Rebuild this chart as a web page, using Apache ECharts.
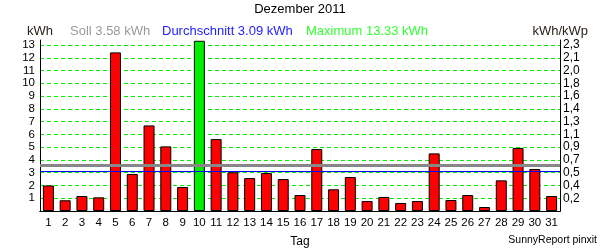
<!DOCTYPE html>
<html>
<head>
<meta charset="utf-8">
<script src="https://cdn.jsdelivr.net/npm/echarts@6/dist/echarts.min.js"></script>
<style>
html,body{margin:0;padding:0;background:#fff;}
#chart{width:600px;height:250px;}
</style>
</head>
<body>
<div id="chart"></div>
<script>
// ---- data ----
var days = ['1','2','3','4','5','6','7','8','9','10','11','12','13','14','15','16','17','18','19','20','21','22','23','24','25','26','27','28','29','30','31'];
var kwh = [2.0,0.84,1.17,1.07,12.42,2.9,6.7,5.06,1.88,13.33,5.63,3.03,2.58,2.97,2.5,1.25,4.85,1.7,2.66,0.78,1.1,0.63,0.78,4.51,0.86,1.25,0.31,2.4,4.93,3.29,1.17];
var leftTicks = ['','1','2','3','4','5','6','7','8','9','10','11','12','13'];
var rightTicks = ['','0,2','0,4','0,5','0,7','0,9','1,1','1,3','1,4','1,6','1,8','2,0','2,1','2,3'];
var soll = 3.58;
var avg = 3.09;
var maxVal = 13.33;
var titleText = 'Dezember 2011';
var xName = 'Tag';
var footer = 'SunnyReport pinxit';

var font = 'Liberation Sans, Arial, sans-serif';
var barData = kwh.map(function (v) {
  return {
    value: v,
    itemStyle: { color: v === maxVal ? '#00ee00' : '#ff0000' }
  };
});

function tickFmt(arr) {
  return function (v) {
    if (Math.abs(v - Math.round(v)) > 1e-6) return '';
    var i = Math.round(v);
    return arr[i] !== undefined ? arr[i] : '';
  };
}
function ttl(text, pos, size, color) {
  var o = { text: text, padding: 0, textStyle: { fontSize: size, fontWeight: 'normal', color: color, fontFamily: font } };
  for (var k in pos) o[k] = pos[k];
  return o;
}

var chart = echarts.init(document.getElementById('chart'), null, { renderer: 'canvas' });
chart.setOption({
  animation: false,
  backgroundColor: '#fff',
  textStyle: { fontFamily: font },
  title: [
    ttl(titleText, { left: 'center', top: 3 }, 13, '#000'),
    ttl('kWh', { left: 27, top: 25 }, 13, '#2a2218'),
    ttl('Soll ' + soll.toFixed(2) + ' kWh', { left: 70, top: 25 }, 13, '#9a9a9a'),
    ttl('Durchschnitt ' + avg.toFixed(2) + ' kWh', { left: 162, top: 25 }, 13, '#2222ff'),
    ttl('Maximum ' + maxVal.toFixed(2) + ' kWh', { left: 306, top: 25 }, 13, '#33ff33'),
    ttl('kWh/kWp', { right: 12, top: 25 }, 13, '#2a2218'),
    ttl(xName, { left: 'center', top: 236 }, 12, '#000'),
    ttl(footer, { right: 3, top: 235 }, 10.5, '#000')
  ],
  grid: { left: 40, right: 40, top: 40, bottom: 39, show: false },
  xAxis: [
    {
      type: 'category',
      data: days,
      axisLine: { show: true, lineStyle: { color: '#000', width: 1 } },
      axisTick: { show: false },
      axisLabel: { fontSize: 11.5, color: '#000', margin: 6, interval: 0, fontFamily: font }
    },
    {
      type: 'category',
      data: days,
      position: 'top',
      axisLine: { show: true, lineStyle: { color: '#000', width: 1 } },
      axisTick: { show: false },
      axisLabel: { show: false }
    }
  ],
  yAxis: [
    {
      type: 'value', min: 0, max: 13.39, interval: 1, position: 'left',
      axisLine: { show: true, lineStyle: { color: '#000' } },
      axisTick: { show: false },
      axisLabel: { fontSize: 11.5, color: '#000', margin: 5, showMaxLabel: false, formatter: tickFmt(leftTicks), fontFamily: font },
      splitLine: { show: true, showMinLine: false, showMaxLine: false, lineStyle: { color: '#00ee00', type: [4, 3], width: 1 } }
    },
    {
      type: 'value', min: 0, max: 13.39, interval: 1, position: 'right',
      axisLine: { show: true, lineStyle: { color: '#000' } },
      axisTick: { show: false },
      axisLabel: { fontSize: 12, color: '#000', margin: 3, showMaxLabel: false, formatter: tickFmt(rightTicks), fontFamily: font },
      splitLine: { show: false }
    }
  ],
  series: [
    {
      type: 'bar',
      data: barData,
      barWidth: 11,
      itemStyle: { borderColor: '#000', borderWidth: 1 },
      markLine: {
        silent: true,
        symbol: ['none', 'none'],
        label: { show: false },
        data: [
          { yAxis: soll, lineStyle: { color: '#888888', width: 3, type: 'solid' } },
          { yAxis: avg, lineStyle: { color: '#0000ff', width: 1, type: 'solid' } }
        ]
      }
    }
  ]
});
</script>
</body>
</html>
